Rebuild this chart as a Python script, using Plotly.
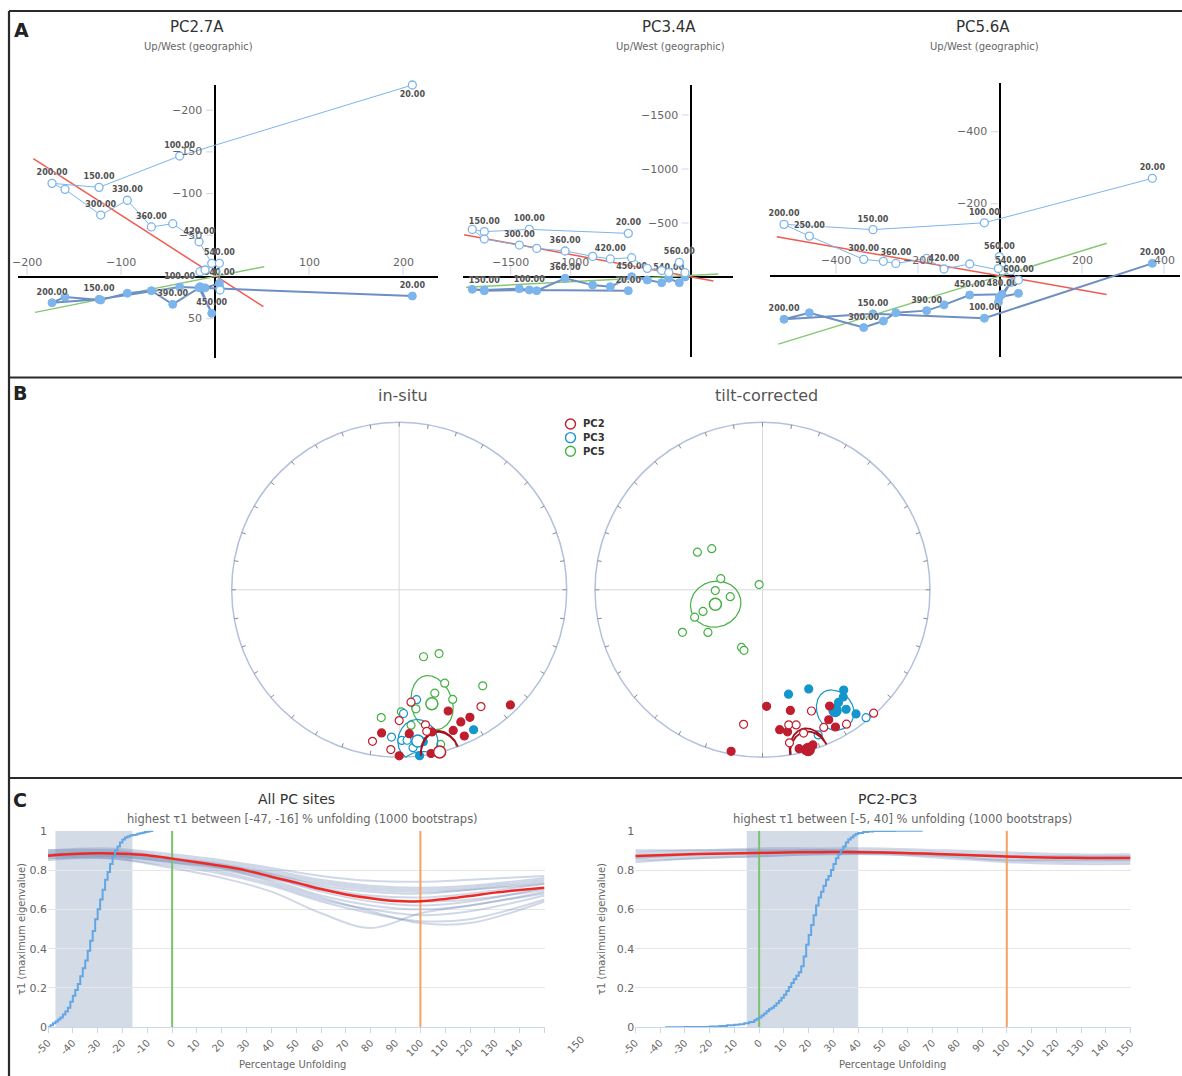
import numpy as np
import plotly.graph_objects as go

W, H = 1182, 1076
FONT = "DejaVu Sans"

# ------------------------------------------------------------------
# Panel A: orthogonal vector diagrams (demagnetisation steps)
# x = horizontal component shared by both projections,
# up = vertical projection (negative is up), hor = horizontal projection
# ------------------------------------------------------------------
steps_pc27 = [20, 100, 150, 200, 250, 300, 330, 360, 390, 420, 450, 480, 510, 540, 560]
x_pc27 = [209.9, -37.6, -123.4, -173.4, -159.6, -121.6, -93.3, -67.7, -45.0, -17.0, -3.5, -16.0, -10.6, 4.6, 5.3]
up_pc27 = [-230.2, -145.1, -107.5, -112.3, -105.1, -74.3, -92.0, -60.0, -63.9, -42.3, -16.4, -6.4, -8.4, -16.4, 15.6]
hor_pc27 = [22.8, 12.0, 26.8, 30.8, 24.0, 27.6, 19.4, 16.4, 32.8, 13.0, 43.5, 11.6, 13.0, 7.6, 13.0]
lab_up_pc27 = [20, 100, 150, 200, 300, 330, 360, 420, 540]
lab_hor_pc27 = [20, 100, 150, 200, 390, 450, 540]
fit_up_pc27 = ([-193.3, 51.4], [-141.8, 35.6])
fit_hor_pc27 = ([-191.5, 52.4], [42.4, -12.4])
xticks_pc27 = [-200, -100, 100, 200]
yticks_pc27 = [-200, -150, -100, -50, 50]

steps_pc34 = [20, 100, 150, 200, 250, 300, 330, 360, 390, 420, 450, 480, 510, 540, 560, 580]
x_pc34 = [-520, -1345, -1720, -1820, -1720, -1428, -1283, -1047, -817, -670, -492, -362, -242, -183, -95, -47.5]
up_pc34 = [-404, -441, -420, -441, -352, -296, -265, -241, -191, -167, -179, -80, -60, -40, -136, -40]
hor_pc34 = [127, 120, 127, 114, 120, 108, 127, 12, 75, 90, -3, 28, 53, 12, 53, 0]
lab_up_pc34 = [20, 100, 150, 300, 360, 420, 560]
lab_hor_pc34 = [20, 100, 150, 360, 450, 540]
fit_up_pc34 = ([-1889, 189], [-392, 37])
fit_hor_pc34 = ([-1872, 230], [95, -28])
xticks_pc34 = [-1500, -1000]
yticks_pc34 = [-1500, -1000, -500]

steps_pc56 = [20, 100, 150, 200, 250, 300, 330, 360, 390, 420, 450, 480, 510, 540, 560, 600]
x_pc56 = [371.5, -38.2, -309.8, -526.8, -465, -332.5, -284.5, -254, -179, -136.6, -74, 5, -4, 26, -1.6, 45]
up_pc56 = [-270.5, -147, -128, -142.7, -110, -45.4, -40, -34, -48, -18.6, -32.5, -14, -20, -14, -53, 12]
hor_pc56 = [-34.4, 118, 106, 121, 103, 144, 126, 103, 97, 81, 53.6, 51.7, 74, 19.4, 60, 49]
lab_up_pc56 = [20, 100, 150, 200, 250, 300, 360, 420, 540, 560, 600]
lab_hor_pc56 = [20, 100, 150, 200, 300, 390, 450, 480]
fit_up_pc56 = ([-544.7, 260], [-108, 52])
fit_hor_pc56 = ([-540.7, 260], [190, -90])
xticks_pc56 = [-400, -200, 200, 400]
yticks_pc56 = [-400, -200]

# ------------------------------------------------------------------
# Panel B: site directions (declination, inclination) and mean ellipses
# ------------------------------------------------------------------
insitu_pc2_dec = [158, 155, 151, 136, 159, 156, 187, 176, 167, 180, 169, 174, 180, 145, 169, 169, 190, 183]
insitu_pc2_inc = [23, 14, 14, 5, 11, 5, 15, 15, 14, 1, 0.5, -33, -23, -16, -19, -15, -9, -5]
insitu_pc3_dec = [152, 171, 173, 171, 178, 183, 179, 177, 175]
insitu_pc3_inc = [6, 9, 0.2, -34, -27, -13, -11, -11, -6]
insitu_pc5_dec = [160, 148, 154, 139, 161, 154, 172, 179, 188, 175, 165]
insitu_pc5_inc = [-55, -53, -38, -25, -35, -28, -29, -28, -24, -20, -5]

tilt_pc2_dec = [178, 167, 150, 153, 152, 173, 170, 191, 167, 165, 163, 162,
                188, 169, 166, 158, 148, 156, 164, 170, 138]
tilt_pc2_inc = [31, 27, 21, 14, 8, 17, 15, 2, 3, 1, 2, 3,
                -20, -19, -18, -23, -6, -11, -12, -8, -1]
tilt_pc3_dec = [166, 155, 141, 143, 146, 145, 143, 149, 141, 159]
tilt_pc3_inc = [36, 35, 24, 21, 20, 14, 8, 16, -2, -8]
tilt_pc5_dec = [300, 309, 285, 327, 269, 258, 250, 248, 242, 232, 200, 197]
tilt_pc5_inc = [-53, -58, -69, -87, -67, -74, -59, -54, -45, -56, -60, -59]

# mean direction: dec, inc, semi-axis along dip, semi-axis across dip (degrees)
insitu_means = {"PC2": (166, -0.3, 13.7, 6.5), "PC3": (173, -10, 13.0, 7.4), "PC5": (164, -30, 15.5, 8.6)}
tilt_means = {"PC2": (164, 1, 13.7, 6.5), "PC3": (149, 17, 12.6, 7.0), "PC5": (253, -66, 12.6, 10.8)}

# ------------------------------------------------------------------
# Panel C: fold test (maximum eigenvalue versus unfolding)
# ------------------------------------------------------------------
cdf_all_x = list(range(-50, -7))
cdf_all_y = [0.00, 0.01, 0.02, 0.03, 0.04, 0.05, 0.065, 0.08, 0.10, 0.13, 0.16, 0.19, 0.22, 0.26,
             0.30, 0.34, 0.39, 0.44, 0.49, 0.55, 0.60, 0.65, 0.70, 0.75, 0.79, 0.83, 0.87, 0.90,
             0.92, 0.94, 0.955, 0.965, 0.97, 0.975, 0.978, 0.98, 0.984, 0.987, 0.99, 0.993,
             0.996, 0.998, 1.0]
mean_all_x = [-50, -40, -30, -20, -10, 0, 10, 20, 30, 40, 50, 60, 70, 80, 90, 100, 110, 120, 130, 140, 150]
mean_all_y = [0.873, 0.881, 0.885, 0.883, 0.875, 0.858, 0.839, 0.82, 0.797, 0.766, 0.736, 0.703,
              0.676, 0.656, 0.642, 0.641, 0.653, 0.668, 0.685, 0.698, 0.71]
boot_all_x = [-50, -25, 0, 20, 40, 60, 80, 100, 120, 150]
boot_all_y = [
    [0.90, 0.91, 0.88, 0.85, 0.81, 0.77, 0.745, 0.74, 0.75, 0.77],
    [0.89, 0.90, 0.87, 0.84, 0.80, 0.75, 0.72, 0.71, 0.72, 0.76],
    [0.88, 0.89, 0.86, 0.83, 0.79, 0.74, 0.71, 0.70, 0.71, 0.75],
    [0.90, 0.90, 0.86, 0.83, 0.78, 0.72, 0.69, 0.68, 0.70, 0.74],
    [0.87, 0.88, 0.85, 0.82, 0.77, 0.71, 0.67, 0.66, 0.68, 0.73],
    [0.88, 0.88, 0.84, 0.81, 0.76, 0.69, 0.64, 0.62, 0.64, 0.71],
    [0.86, 0.87, 0.84, 0.80, 0.75, 0.67, 0.62, 0.60, 0.62, 0.69],
    [0.87, 0.87, 0.83, 0.79, 0.73, 0.65, 0.60, 0.57, 0.59, 0.67],
    [0.86, 0.86, 0.82, 0.78, 0.72, 0.64, 0.58, 0.54, 0.55, 0.65],
    [0.89, 0.89, 0.85, 0.81, 0.74, 0.66, 0.59, 0.53, 0.53, 0.64],
    [0.85, 0.86, 0.81, 0.76, 0.69, 0.58, 0.505, 0.58, 0.62, 0.68],
    [0.88, 0.88, 0.85, 0.82, 0.78, 0.73, 0.70, 0.69, 0.70, 0.73],
    [0.87, 0.87, 0.84, 0.81, 0.76, 0.70, 0.66, 0.64, 0.65, 0.70],
]
band_all = (-47, -16)

cdf_pc23_x = [-38, -30, -25, -20, -16, -13, -10, -8, -6, -4, -2, -1,
              0, 1, 2, 3, 4, 5, 6, 7, 8, 9, 10, 11, 12, 13, 14, 15, 16, 17, 18, 19, 20,
              21, 22, 23, 24, 25, 26, 27, 28, 29, 30, 31, 32, 33, 34, 35, 36, 37, 38, 39, 40,
              42, 44, 46, 50, 55, 60, 66]
cdf_pc23_y = [0, 0.001, 0.002, 0.004, 0.007, 0.010, 0.013, 0.016, 0.020, 0.027, 0.036, 0.043,
              0.050, 0.060, 0.070, 0.082, 0.092, 0.100, 0.110, 0.122, 0.135, 0.150, 0.165, 0.185,
              0.205, 0.225, 0.245, 0.262, 0.28, 0.31, 0.36, 0.42, 0.47, 0.52, 0.57, 0.62, 0.66,
              0.69, 0.72, 0.75, 0.77, 0.80, 0.83, 0.86, 0.88, 0.90, 0.92, 0.94, 0.955, 0.965,
              0.975, 0.983, 0.988, 0.993, 0.996, 0.998, 0.999, 1.0, 1.0, 1.0]
mean_pc23_x = [-50, -25, 0, 25, 50, 75, 100, 125, 150]
mean_pc23_y = [0.871, 0.881, 0.887, 0.891, 0.889, 0.880, 0.869, 0.862, 0.861]
boot_pc23_x = [-50, -25, 0, 25, 50, 75, 100, 125, 150]
boot_pc23_y = [
    [0.89, 0.90, 0.91, 0.91, 0.91, 0.90, 0.89, 0.88, 0.88],
    [0.88, 0.89, 0.90, 0.90, 0.90, 0.89, 0.88, 0.87, 0.87],
    [0.86, 0.87, 0.88, 0.89, 0.89, 0.88, 0.86, 0.85, 0.85],
    [0.85, 0.86, 0.87, 0.88, 0.88, 0.87, 0.85, 0.84, 0.84],
    [0.87, 0.88, 0.89, 0.90, 0.89, 0.88, 0.87, 0.86, 0.86],
    [0.84, 0.86, 0.87, 0.88, 0.88, 0.86, 0.84, 0.83, 0.83],
    [0.90, 0.90, 0.90, 0.90, 0.89, 0.88, 0.87, 0.87, 0.87],
    [0.86, 0.88, 0.89, 0.89, 0.89, 0.87, 0.85, 0.85, 0.85],
]
band_pc23 = (-5, 40)

unfold_ticks = list(range(-50, 151, 10))
legend_groups = ["PC2", "PC3", "PC5"]

# ------------------------------------------------------------------
fig = go.Figure()
layout_axes = {}
shapes = []
annotations = []


def dx(a, b):
    return [a / W, b / W]


def dy(top, bottom):
    return [1 - bottom / H, 1 - top / H]


def ax_names(i):
    return ("x" if i == 1 else f"x{i}"), ("y" if i == 1 else f"y{i}")


def text_note(x, y, text, size, color="#333", xanchor="center", **kw):
    annotations.append(dict(x=x / W, y=1 - y / H, xref="paper", yref="paper", text=text,
                            showarrow=False, xanchor=xanchor, yanchor="middle",
                            font=dict(size=size, color=color, family=FONT), **kw))


# ---------------- Panel A ----------------
zij = [
    dict(title="PC2.7A", cx=197, steps=steps_pc27, x=x_pc27, up=up_pc27, hor=hor_pc27,
         lab_up=lab_up_pc27, lab_hor=lab_hor_pc27, fit_up=fit_up_pc27, fit_hor=fit_hor_pc27,
         xt=xticks_pc27, yt=yticks_pc27, px=(18, 438), py=(85, 358),
         xr=[-209.6, 237.2], yr=[97.1, -230.2]),
    dict(title="PC3.4A", cx=669, steps=steps_pc34, x=x_pc34, up=up_pc34, hor=hor_pc34,
         lab_up=lab_up_pc34, lab_hor=lab_hor_pc34, fit_up=fit_up_pc34, fit_hor=fit_hor_pc34,
         xt=xticks_pc34, yt=yticks_pc34, px=(462.7, 733), py=(85, 357),
         xr=[-1900, 352.5], yr=[740.7, -1777.8]),
    dict(title="PC5.6A", cx=983, steps=steps_pc56, x=x_pc56, up=up_pc56, hor=hor_pc56,
         lab_up=lab_up_pc56, lab_hor=lab_hor_pc56, fit_up=fit_up_pc56, fit_hor=fit_hor_pc56,
         xt=xticks_pc56, yt=yticks_pc56, px=(770, 1180), py=(83, 357),
         xr=[-561, 439], yr=[225.8, -535.3]),
]

LIGHT = "#7cb5ec"
DARK = "#6d8fc4"
lab_font = dict(size=8, color="#505050", family=FONT, weight="bold",
                shadow="0px 0px 2px white")

for k, p in enumerate(zij):
    xa, ya = ax_names(k + 1)
    layout_axes["xaxis" if k == 0 else f"xaxis{k+1}"] = dict(
        domain=dx(*p["px"]), range=p["xr"], showgrid=False, zeroline=True,
        zerolinecolor="#000", zerolinewidth=2, showticklabels=False, ticks="",
        showline=False, anchor=ya, fixedrange=True, automargin=False)
    layout_axes["yaxis" if k == 0 else f"yaxis{k+1}"] = dict(
        domain=dy(*p["py"]), range=p["yr"], showgrid=False, zeroline=True,
        zerolinecolor="#000", zerolinewidth=2, showticklabels=False, ticks="",
        showline=False, anchor=xa, fixedrange=True, automargin=False)

    fig.add_trace(go.Scatter(x=p["fit_up"][0], y=p["fit_up"][1], mode="lines",
                             line=dict(color="#f05a50", width=1.5), xaxis=xa, yaxis=ya,
                             hoverinfo="skip", showlegend=False))
    fig.add_trace(go.Scatter(x=p["fit_hor"][0], y=p["fit_hor"][1], mode="lines",
                             line=dict(color="#86c774", width=1.5), xaxis=xa, yaxis=ya,
                             hoverinfo="skip", showlegend=False))

    hor_txt = [f"{s:.2f}" if s in p["lab_hor"] else "" for s in p["steps"]]
    fig.add_trace(go.Scatter(x=p["x"], y=p["hor"], mode="lines+markers+text", text=hor_txt,
                             textposition="top center", textfont=lab_font, cliponaxis=False,
                             line=dict(color=DARK, width=2),
                             marker=dict(size=8, color=LIGHT, line=dict(color=LIGHT, width=1)),
                             xaxis=xa, yaxis=ya, hoverinfo="skip", showlegend=False))
    up_txt = [f"{s:.2f}" if s in p["lab_up"] else "" for s in p["steps"]]
    up_pos = ["bottom center" if (k == 0 and s == 20) else "top center" for s in p["steps"]]
    fig.add_trace(go.Scatter(x=p["x"], y=p["up"], mode="lines+markers+text", text=up_txt,
                             textposition=up_pos, textfont=lab_font, cliponaxis=False,
                             line=dict(color=LIGHT, width=1),
                             marker=dict(size=8, color="white", line=dict(color=LIGHT, width=1.3)),
                             xaxis=xa, yaxis=ya, hoverinfo="skip", showlegend=False))

    for t in p["xt"]:
        shapes.append(dict(type="line", xref=xa, yref=ya, x0=t, x1=t, ysizemode="pixel",
                           yanchor=0, y0=2, y1=12, line=dict(color="#ccd6eb", width=1)))
        annotations.append(dict(x=t, y=0, xref=xa, yref=ya, text=f"{t}".replace("-", "\u2212"),
                                showarrow=False, yshift=15, xanchor="center", yanchor="middle",
                                font=dict(size=11, color="#666", family=FONT)))
    for t in p["yt"]:
        shapes.append(dict(type="line", xref=xa, yref=ya, y0=t, y1=t, xsizemode="pixel",
                           xanchor=0, x0=-9, x1=-2, line=dict(color="#ccd6eb", width=1)))
        annotations.append(dict(x=0, y=t, xref=xa, yref=ya, text=f"{t}".replace("-", "\u2212"),
                                showarrow=False, xshift=-11, xanchor="right", yanchor="middle",
                                font=dict(size=11, color="#666", family=FONT)))

    text_note(p["cx"], 27, p["title"], 15, "#333")
    text_note(p["cx"] + 1, 47, "Up/West (geographic)", 10, "#666")


# ---------------- Panel B ----------------
def project(dec, inc):
    d = np.radians(np.asarray(dec, dtype=float))
    i = np.radians(np.abs(np.asarray(inc, dtype=float)))
    r = np.sqrt(1 - np.sin(i))
    return r * np.sin(d), r * np.cos(d)


def ellipse(dec, inc, a_dip, a_cross, n=241):
    D, I = np.radians(dec), np.radians(inc)
    m = np.array([np.cos(I) * np.cos(D), np.cos(I) * np.sin(D), np.sin(I)])
    e1 = np.array([-np.sin(I) * np.cos(D), -np.sin(I) * np.sin(D), np.cos(I)])
    e2 = np.array([-np.sin(D), np.cos(D), 0.0])
    t = np.linspace(0, 2 * np.pi, n)
    v = (m[:, None] + np.tan(np.radians(a_dip)) * np.cos(t) * e1[:, None]
         + np.tan(np.radians(a_cross)) * np.sin(t) * e2[:, None])
    v /= np.linalg.norm(v, axis=0)
    return project(np.degrees(np.arctan2(v[1], v[0])), np.degrees(np.arcsin(v[2])))


COLORS = {"PC2": "#bf1e2e", "PC3": "#1496cc", "PC5": "#43b143"}
ELL_COLORS = {"PC2": "#a3121c", "PC3": "#1496cc", "PC5": "#43b143"}
nets = [
    dict(title="in-situ", cx=399.2, data={"PC2": (insitu_pc2_dec, insitu_pc2_inc),
                                          "PC3": (insitu_pc3_dec, insitu_pc3_inc),
                                          "PC5": (insitu_pc5_dec, insitu_pc5_inc)},
         means=insitu_means),
    dict(title="tilt-corrected", cx=762.5, data={"PC2": (tilt_pc2_dec, tilt_pc2_inc),
                                                 "PC3": (tilt_pc3_dec, tilt_pc3_inc),
                                                 "PC5": (tilt_pc5_dec, tilt_pc5_inc)},
         means=tilt_means),
]
R_PX, CY = 167.5, 589.8
half = 175.0
lim = half / R_PX
for j, net in enumerate(nets):
    idx = 4 + j
    xa, ya = ax_names(idx)
    layout_axes[f"xaxis{idx}"] = dict(domain=dx(net["cx"] - half, net["cx"] + half),
                                      range=[-lim, lim], visible=False, anchor=ya,
                                      fixedrange=True, automargin=False)
    layout_axes[f"yaxis{idx}"] = dict(domain=dy(CY - half, CY + half), range=[-lim, lim],
                                      visible=False, anchor=xa, fixedrange=True, automargin=False)
    # net outline and cross
    shapes.append(dict(type="line", xref=xa, yref=ya, x0=-1, x1=1, y0=0, y1=0,
                       line=dict(color="#d9d9d9", width=1), layer="below"))
    shapes.append(dict(type="line", xref=xa, yref=ya, x0=0, x1=0, y0=-1, y1=1,
                       line=dict(color="#d9d9d9", width=1), layer="below"))
    shapes.append(dict(type="circle", xref=xa, yref=ya, x0=-1, x1=1, y0=-1, y1=1,
                       line=dict(color="#b3c1dc", width=1.5), layer="below"))
    az = np.radians(np.arange(0, 360, 10))
    tx, ty = [], []
    for a in az:
        tx += [np.sin(a), 0.975 * np.sin(a), None]
        ty += [np.cos(a), 0.975 * np.cos(a), None]
    fig.add_trace(go.Scatter(x=tx, y=ty, mode="lines", line=dict(color="#8a8a8a", width=1),
                             xaxis=xa, yaxis=ya, hoverinfo="skip", showlegend=False))

    for grp in ["PC5", "PC3", "PC2"]:
        dec, inc = net["data"][grp]
        mdec, minc, a1, a2 = net["means"][grp]
        ex, ey = ellipse(mdec, minc, a1, a2)
        fig.add_trace(go.Scatter(x=ex, y=ey, mode="lines",
                                 line=dict(color=ELL_COLORS[grp], width=1.8 if grp == "PC2" else 1.2),
                                 xaxis=xa, yaxis=ya, hoverinfo="skip", showlegend=False))
        x, y = project(dec, inc)
        inc_arr = np.asarray(inc)
        fill = [COLORS[grp] if v >= 0 else "white" for v in inc_arr]
        fig.add_trace(go.Scatter(x=x, y=y, mode="markers",
                                 marker=dict(size=8, color=fill,
                                             line=dict(color=COLORS[grp], width=1.2)),
                                 xaxis=xa, yaxis=ya, hoverinfo="skip", showlegend=False))
        mx, my = project([mdec], [minc])
        fig.add_trace(go.Scatter(x=mx, y=my, mode="markers",
                                 marker=dict(size=12, color=COLORS[grp] if minc >= 0 else "white",
                                             line=dict(color=COLORS[grp], width=1.5)),
                                 xaxis=xa, yaxis=ya, hoverinfo="skip", showlegend=False))
    text_note(net["cx"] + 4, 395, net["title"], 16, "#555")

# legend: open-circle keys with bold group names
for n, grp in enumerate(legend_groups):
    ly = 424 + 13.6 * n
    shapes.append(dict(type="circle", xref="paper", yref="paper", xsizemode="pixel",
                       ysizemode="pixel", xanchor=570.5 / W, yanchor=1 - ly / H,
                       x0=-5, x1=5, y0=-5, y1=5, line=dict(color=COLORS[grp], width=1.4),
                       fillcolor="white"))
    annotations.append(dict(x=581 / W, y=1 - ly / H, xref="paper", yref="paper",
                            text=f"<b>{grp}</b>", showarrow=False, xanchor="left",
                            yanchor="middle", font=dict(size=10, color="#333", family=FONT)))

# ---------------- Panel C ----------------
folds = [
    dict(title="All PC sites", sub="highest \u03c41 between [-47, -16] % unfolding (1000 bootstraps)",
         px=(48, 544.5), band=band_all, cdf=(cdf_all_x, cdf_all_y), mean=(mean_all_x, mean_all_y),
         boot=(boot_all_x, boot_all_y), tcx=296, scx=302, ylab=21, xlab=292, last_out=True),
    dict(title="PC2-PC3", sub="highest \u03c41 between [-5, 40] % unfolding (1000 bootstraps)",
         px=(635.3, 1130.6), band=band_pc23, cdf=(cdf_pc23_x, cdf_pc23_y),
         mean=(mean_pc23_x, mean_pc23_y), boot=(boot_pc23_x, boot_pc23_y),
         tcx=887, scx=902, ylab=601, xlab=893, last_out=False),
]
for j, f in enumerate(folds):
    idx = 6 + j
    xa, ya = ax_names(idx)
    # the last tick label of the left chart sits pushed out past the axis end
    tick_txt = [str(v) for v in unfold_ticks]
    if f["last_out"]:
        tick_txt[-1] = ""
        annotations.append(dict(x=unfold_ticks[-1], y=0, xref=xa, yref=ya,
                                text=str(unfold_ticks[-1]), showarrow=False, textangle=-45,
                                xanchor="center", yanchor="middle", xshift=31, yshift=-17,
                                font=dict(size=10, color="#666", family=FONT)))
    layout_axes[f"xaxis{idx}"] = dict(
        domain=dx(*f["px"]), range=[-50, 150], tickvals=unfold_ticks, ticktext=tick_txt,
        tickangle=-45, tickfont=dict(size=10, color="#666", family=FONT), showgrid=False,
        zeroline=False, showline=True, linecolor="#ccd6eb", linewidth=1, ticks="outside",
        ticklen=5, tickcolor="#ccd6eb", anchor=ya, fixedrange=True, automargin=False)
    layout_axes[f"yaxis{idx}"] = dict(
        domain=dy(830.7, 1027.3), range=[0, 1], tickvals=[0, 0.2, 0.4, 0.6, 0.8, 1],
        ticktext=["0", "0.2", "0.4", "0.6", "0.8", "1"],
        tickfont=dict(size=11, color="#666", family=FONT), showgrid=True, gridcolor="#e6e6e6",
        zeroline=False, showline=False, ticks="", anchor=xa, fixedrange=True, automargin=False)
    shapes.append(dict(type="rect", xref=xa, yref=ya, x0=f["band"][0], x1=f["band"][1], y0=0, y1=1,
                       fillcolor="#d3dbe7", line=dict(width=0), layer="below"))
    bx, bys = f["boot"]
    for by in bys:
        fig.add_trace(go.Scatter(x=bx, y=by, mode="lines", line=dict(color="rgba(120,142,185,0.35)",
                                 width=2, shape="spline"), xaxis=xa, yaxis=ya,
                                 hoverinfo="skip", showlegend=False))
    fig.add_trace(go.Scatter(x=[0, 0], y=[0, 1], mode="lines", line=dict(color="#7cc36c", width=2),
                             xaxis=xa, yaxis=ya, hoverinfo="skip", showlegend=False))
    fig.add_trace(go.Scatter(x=[100, 100], y=[0, 1], mode="lines", line=dict(color="#f4a261", width=2),
                             xaxis=xa, yaxis=ya, hoverinfo="skip", showlegend=False))
    fig.add_trace(go.Scatter(x=f["mean"][0], y=f["mean"][1], mode="lines",
                             line=dict(color="#ee2a24", width=2.5, shape="spline"),
                             xaxis=xa, yaxis=ya, hoverinfo="skip", showlegend=False))
    fig.add_trace(go.Scatter(x=f["cdf"][0], y=f["cdf"][1], mode="lines",
                             line=dict(color="#62a6e3", width=2, shape="hv"),
                             xaxis=xa, yaxis=ya, hoverinfo="skip", showlegend=False))
    text_note(f["tcx"], 799, f["title"], 14, "#333")
    text_note(f["scx"], 819, f["sub"], 11.5, "#666")
    text_note(f["ylab"], 929, "\u03c41 (maximum eigenvalue)", 10, "#666", textangle=-90)
    text_note(f["xlab"], 1064, "Percentage Unfolding", 10, "#666")

# panel letters and frame
text_note(21, 30, "<b>A</b>", 19, "#222")
text_note(20, 393, "<b>B</b>", 19, "#222")
text_note(20, 800, "<b>C</b>", 19, "#222")
for yy in (11, 377.5, 778):
    shapes.append(dict(type="line", xref="paper", yref="paper", x0=9 / W, x1=1,
                       y0=1 - yy / H, y1=1 - yy / H, line=dict(color="#2a2a2a", width=2.2)))
shapes.append(dict(type="line", xref="paper", yref="paper", x0=9 / W, x1=9 / W,
                   y0=0, y1=1 - 11 / H, line=dict(color="#2a2a2a", width=2.2)))

fig.update_layout(
    width=W, height=H, autosize=False,
    margin=dict(l=0, r=0, t=0, b=0, pad=0, autoexpand=False),
    paper_bgcolor="white", plot_bgcolor="white", font=dict(family=FONT),
    shapes=shapes, annotations=annotations, showlegend=False,
    **layout_axes,
)
fig.write_html("out.html", config={"responsive": False})
